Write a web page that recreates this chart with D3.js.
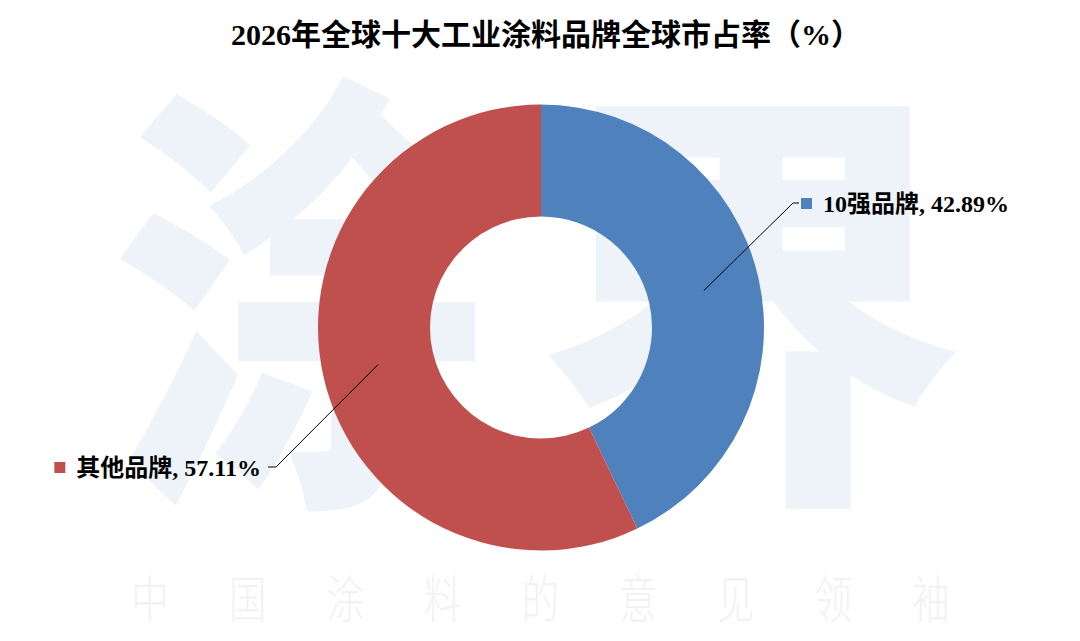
<!DOCTYPE html>
<html>
<head>
<meta charset="utf-8">
<script src="https://cdn.jsdelivr.net/npm/d3@7"></script>
<style>
  body { margin: 0; background: #fff; }
  svg { display: block; }
</style>
</head>
<body>
<script>
// data
var categories = ["10强品牌", "其他品牌"],
    shares = [42.89, 57.11],
    colors = ["#4f81bd", "#c0504d"];

var titleText = "2026年全球十大工业涂料品牌全球市占率（%）";
var markChars = ["涂", "界"],
    sloganChars = ["中", "国", "涂", "料", "的", "意", "见", "领", "袖"];

var width = 1080, height = 641,
    cx = 541, cy = 327.5,
    outerR = 223, innerR = 111;

var serif = "'Liberation Serif', 'Times New Roman', 'Noto Sans CJK SC', serif";

var svg = d3.select("body").append("svg")
    .attr("width", width)
    .attr("height", height);

// watermark
var wm = svg.append("g").attr("class", "watermark");
var markPos = [{x: 306, y: 272, sx: 0.84, sy: 0.98}, {x: 751, y: 276, sx: 0.93, sy: 0.96}];
wm.selectAll(".mark")
    .data(markChars)
  .enter().append("text")
    .attr("class", "mark")
    .attr("transform", function(d, i) {
      var p = markPos[i];
      return "translate(" + p.x + "," + p.y + ") scale(" + p.sx + "," + p.sy + ")";
    })
    .attr("text-anchor", "middle")
    .attr("dominant-baseline", "central")
    .attr("font-family", "'Noto Sans CJK SC', sans-serif")
    .attr("font-weight", 900)
    .attr("font-size", 460)
    .style("fill", "#eef3f9")
    .text(function(d) { return d; });

wm.selectAll(".slogan")
    .data(sloganChars)
  .enter().append("text")
    .attr("class", "slogan")
    .attr("transform", function(d, i) { return "translate(" + (150 + i * 97.6) + ",596) scale(0.85,1.15)"; })
    .attr("text-anchor", "middle")
    .attr("dominant-baseline", "central")
    .attr("font-family", "'Noto Sans CJK SC', sans-serif")
    .attr("font-weight", 300)
    .attr("font-size", 44)
    .style("fill", "#f2f2f2")
    .text(function(d) { return d; });

// title
svg.append("text")
    .attr("x", 546)
    .attr("y", 45)
    .attr("text-anchor", "middle")
    .attr("font-family", serif)
    .attr("font-weight", "bold")
    .attr("font-size", 30)
    .style("fill", "#000")
    .text(titleText);

// donut
var data = categories.map(function(c, i) { return {name: c, value: shares[i], color: colors[i]}; });

var pie = d3.pie()
    .sort(null)
    .value(function(d) { return d.value; });

var arc = d3.arc()
    .innerRadius(innerR)
    .outerRadius(outerR);

var g = svg.append("g")
    .attr("transform", "translate(" + cx + "," + cy + ")");

var arcs = pie(data);

g.selectAll(".slice")
    .data(arcs)
  .enter().append("path")
    .attr("class", "slice")
    .attr("d", arc)
    .style("fill", function(d) { return d.data.color; });

// labels with leader lines
var labelLayout = [
  {elbow: [252, -124.5], tail: 6},
  {elbow: [-265, 139.5], tail: -8}
];

arcs.forEach(function(d, i) {
  var c = arc.centroid(d),
      L = labelLayout[i],
      ex = L.elbow[0], ey = L.elbow[1],
      tx = ex + L.tail;

  g.append("polyline")
      .attr("points", [c, [ex, ey], [tx, ey]].map(function(p) { return p.join(","); }).join(" "))
      .style("fill", "none")
      .style("stroke", "#000")
      .style("stroke-width", 1);

  var lab = g.append("g");

  var t = lab.append("text")
      .attr("y", ey + 9)
      .attr("font-family", serif)
      .attr("font-weight", "bold")
      .attr("font-size", 24)
      .style("fill", "#000")
      .text(d.data.name + ", " + d3.format(".2f")(d.data.value) + "%");

  var w = t.node().getComputedTextLength(),
      startX = L.tail > 0 ? tx + 24 : tx - 7 - w;
  t.attr("x", startX);

  lab.append("rect")
      .attr("x", startX - 22)
      .attr("y", ey - 5)
      .attr("width", 11)
      .attr("height", 11)
      .style("fill", d.data.color);
});
</script>
</body>
</html>
